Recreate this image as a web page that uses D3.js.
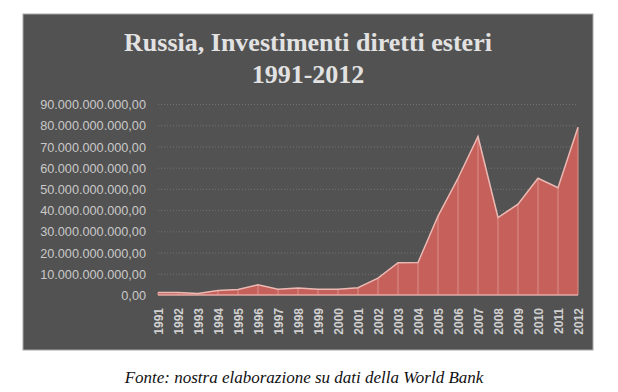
<!DOCTYPE html>
<html>
<head>
<meta charset="utf-8">
<script src="https://cdn.jsdelivr.net/npm/d3@7"></script>
<style>
  html, body { margin: 0; padding: 0; background: #ffffff; }
  svg { display: block; }
</style>
</head>
<body>
<svg id="chart" width="618" height="392"></svg>
<script>
const years = ["1991","1992","1993","1994","1995","1996","1997","1998","1999","2000","2001","2002","2003","2004","2005","2006","2007","2008","2009","2010","2011","2012"];
const fdi = [1.16e9, 1.21e9, 0.69e9, 2.07e9, 2.58e9, 4.86e9, 2.76e9, 3.31e9, 2.71e9, 2.75e9, 3.46e9, 7.96e9, 15.2e9, 15.3e9, 37.2e9, 55.0e9, 74.7e9, 36.5e9, 42.8e9, 55.0e9, 50.6e9, 79.0e9];
const yTicks = [0, 10e9, 20e9, 30e9, 40e9, 50e9, 60e9, 70e9, 80e9, 90e9];
const titleLines = ["Russia, Investimenti diretti esteri", "1991-2012"];
const sourceNote = "Fonte: nostra elaborazione su dati della World Bank";

const svg = d3.select("#chart");

// panel
svg.append("rect")
  .attr("x", 23).attr("y", 14).attr("width", 570).attr("height", 336)
  .attr("fill", "#525252").attr("stroke", "#a8a8a8").attr("stroke-width", 1);

const x = d3.scalePoint().domain(years).range([158, 578]);
const y = d3.scaleLinear().domain([0, 90e9]).range([295, 104]);

const fmt = d3.formatLocale({decimal: ",", thousands: ".", grouping: [3], currency: ["", ""]}).format(",.2f");

// gridlines
svg.append("g").selectAll("line").data(yTicks.slice(1)).join("line")
  .attr("x1", 158).attr("x2", 578)
  .attr("y1", d => y(d) + 0.5).attr("y2", d => y(d) + 0.5)
  .attr("stroke", "#727272").attr("stroke-width", 1).attr("stroke-dasharray", "1,2");

// y axis
const yAxis = svg.append("g").attr("transform", "translate(146,0)")
  .call(d3.axisLeft(y).tickValues(yTicks).tickFormat(fmt).tickSize(0).tickPadding(0));
yAxis.select(".domain").remove();
yAxis.selectAll("text")
  .attr("fill", "#c9c9c9").attr("font-family", "Liberation Sans, Arial, sans-serif")
  .attr("font-size", "12.7px").attr("dy", "0.36em");

// area
const area = d3.area().x((d, i) => x(years[i])).y0(y(0)).y1(d => y(d));
svg.append("path").datum(fdi).attr("d", area).attr("fill", "#c5605a");

// vertical lines
svg.append("g").selectAll("line").data(fdi).join("line")
  .attr("x1", (d, i) => x(years[i])).attr("x2", (d, i) => x(years[i]))
  .attr("y1", y(0)).attr("y2", d => y(d))
  .attr("stroke", "#dc918a").attr("stroke-width", 1);

// baseline
svg.append("line").attr("x1", 158).attr("x2", 578).attr("y1", y(0)).attr("y2", y(0))
  .attr("stroke", "#e3aaa4").attr("stroke-width", 1.5);

// top line
const line = d3.line().x((d, i) => x(years[i])).y(d => y(d));
svg.append("path").datum(fdi).attr("d", line).attr("fill", "none")
  .attr("stroke", "#ebb9b3").attr("stroke-width", 1.5);

// x axis labels
const xAxis = svg.append("g").attr("transform", "translate(0,300)")
  .call(d3.axisBottom(x).tickSize(0).tickPadding(0));
xAxis.select(".domain").remove();
xAxis.selectAll("text")
  .attr("transform", "rotate(-90)")
  .attr("text-anchor", "end")
  .attr("x", -8).attr("y", 0).attr("dy", "0.35em")
  .attr("fill", "#d0d0d0").attr("font-weight", "bold")
  .attr("font-family", "Liberation Sans, Arial, sans-serif").attr("font-size", "12px");

// title
svg.append("g").selectAll("text").data(titleLines).join("text")
  .attr("x", 308).attr("y", (d, i) => 51 + i * 32)
  .attr("text-anchor", "middle")
  .attr("fill", "#e2e2e2").attr("font-weight", "bold")
  .attr("font-family", "Liberation Serif, Times New Roman, serif").attr("font-size", "26px")
  .text(d => d);

// source
svg.append("text").attr("x", 304).attr("y", 383).attr("text-anchor", "middle")
  .attr("fill", "#111").attr("font-style", "italic")
  .attr("font-family", "Liberation Serif, Times New Roman, serif").attr("font-size", "17px")
  .text(sourceNote);
</script>
</body>
</html>
